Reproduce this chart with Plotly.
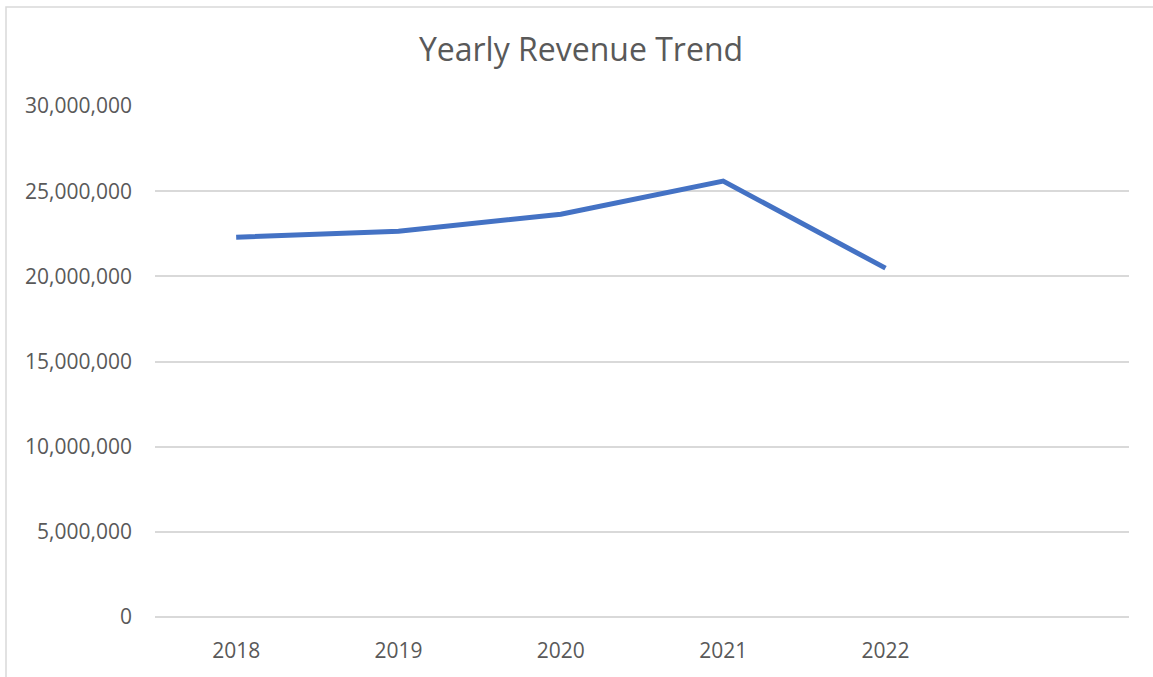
import plotly.graph_objects as go

years = ["2018", "2019", "2020", "2021", "2022"]
revenue = [22300000, 22650000, 23650000, 25590000, 20480000]
y_ticks = [0, 5000000, 10000000, 15000000, 20000000, 25000000, 30000000]

W, H = 1153, 677
ml, mr, mt, mb = 155, 24, 106, 60
pw = W - ml - mr
ph = H - mt - mb

font_fam = "Open Sans, Liberation Sans, sans-serif"
grey = "#595959"

fig = go.Figure()
fig.add_trace(go.Scatter(
    x=years, y=revenue, mode="lines",
    line=dict(color="#4472C4", width=5, shape="linear"),
    showlegend=False, hoverinfo="skip",
))

fig.update_layout(
    width=W, height=H,
    margin=dict(l=ml, r=mr, t=mt, b=mb),
    paper_bgcolor="white", plot_bgcolor="white",
    title=dict(text="Yearly Revenue Trend", x=581 / W, xanchor="center",
               y=1 - 50 / H, yanchor="middle", yref="container",
               font=dict(family=font_fam, size=32, color=grey)),
    xaxis=dict(type="category", categoryorder="array",
               categoryarray=years + [" "],
               tickvals=years, range=[-0.5, 5.5],
               showgrid=False, zeroline=False, showline=False,
               ticks="", ticklabelstandoff=19,
               tickfont=dict(family=font_fam, size=21, color=grey)),
    yaxis=dict(range=[0, 30000000], tickvals=y_ticks, tickformat=",",
               showgrid=True, gridcolor="#D9D9D9", gridwidth=1.5,
               zeroline=True, zerolinecolor="#D9D9D9", zerolinewidth=1.5,
               showline=False, ticks="",
               ticklabelstandoff=22,
               tickfont=dict(family=font_fam, size=21, color=grey)),
)

# chart border (outer frame; right and bottom edges fall outside the view)
x0 = (6 - ml) / pw
x1 = (W + 20 - ml) / pw
y1 = 1 + (mt - 7) / ph
y0 = -(mb + 20) / ph
fig.add_shape(type="rect", xref="paper", yref="paper",
              x0=x0, x1=x1, y0=y0, y1=y1,
              line=dict(color="#D9D9D9", width=1.5), layer="below")

fig.write_html(
    "out.html",
    config={"displayModeBar": False},
    post_script="document.body.style.margin='0';"
                "document.body.style.overflow='hidden';",
)
